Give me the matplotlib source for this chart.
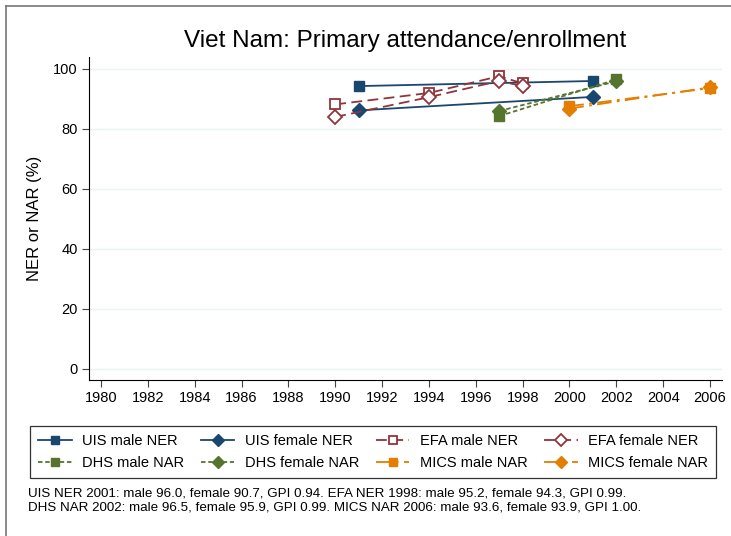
import matplotlib.pyplot as plt
from matplotlib.lines import Line2D

plt.rcParams['font.family'] = ['Liberation Sans', 'DejaVu Sans']

# data
uis_years = [1991, 2001]
uis_male = [94.3, 96.0]
uis_female = [86.2, 90.7]

efa_years = [1990, 1994, 1997, 1998]
efa_male = [88.2, 92.0, 97.6, 95.2]
efa_female = [84.0, 90.6, 96.0, 94.3]

dhs_years = [1997, 2002]
dhs_male = [84.3, 96.5]
dhs_female = [86.0, 95.9]

mics_years = [2000, 2006]
mics_male = [87.6, 93.6]
mics_female = [86.8, 93.9]

xticks = list(range(1980, 2007, 2))
yticks = [0, 20, 40, 60, 80, 100]

notes = ['UIS NER 2001: male 96.0, female 90.7, GPI 0.94. EFA NER 1998: male 95.2, female 94.3, GPI 0.99.',
         'DHS NAR 2002: male 96.5, female 95.9, GPI 0.99. MICS NAR 2006: male 93.6, female 93.9, GPI 1.00.']

navy = '#1a476f'
maroon = '#90353b'
green = '#55752f'
orange = '#e37e00'

fig = plt.figure(figsize=(7.31, 5.36), dpi=100)
ax = fig.add_axes([89/731, 1 - 380/536, (722 - 89)/731, (380 - 57)/536])

ms = 6.8
lw = 1.3
efa_dash = (6, 3)
dhs_dash = (2.5, 1.5)
mics_dash = (8, 3, 1.5, 3)

h = []
h += ax.plot(uis_years, uis_male, '-', color=navy, marker='s', ms=ms, lw=lw, label='UIS male NER')
h += ax.plot(uis_years, uis_female, '-', color=navy, marker='D', ms=ms, lw=lw, label='UIS female NER')
h += ax.plot(efa_years, efa_male, '--', color=maroon, marker='s', ms=ms, mfc='white', mew=1.3,
             lw=lw, dashes=efa_dash, label='EFA male NER')
h += ax.plot(efa_years, efa_female, '--', color=maroon, marker='D', ms=ms, mfc='white', mew=1.3,
             lw=lw, dashes=efa_dash, label='EFA female NER')
h += ax.plot(dhs_years, dhs_male, '--', color=green, marker='s', ms=ms, lw=lw, dashes=dhs_dash,
             label='DHS male NAR')
h += ax.plot(dhs_years, dhs_female, '--', color=green, marker='D', ms=ms, lw=lw, dashes=dhs_dash,
             label='DHS female NAR')
h += ax.plot(mics_years, mics_male, '-.', color=orange, marker='s', ms=ms, lw=lw, dashes=mics_dash,
             label='MICS male NAR')
h += ax.plot(mics_years, mics_female, '-.', color=orange, marker='D', ms=ms, lw=lw, dashes=mics_dash,
             label='MICS female NAR')

ax.set_xlim(1979.49, 2006.51)
ax.set_ylim(-3.7, 104)
ax.set_xticks(xticks)
ax.set_yticks(yticks)
ax.tick_params(labelsize=10.5, length=5, color='#444444', pad=3)
ax.yaxis.grid(True, color='#eaf2f3', lw=1)
ax.set_axisbelow(True)
for s in ['top', 'right']:
    ax.spines[s].set_visible(False)
ax.set_ylabel('NER or NAR (%)', fontsize=12, labelpad=8)

fig.text(405/731, 1 - 41/536, 'Viet Nam: Primary attendance/enrollment', ha='center', va='center',
         fontsize=17.5)

# matplotlib fills legend columns first, so reorder to read row by row
order = [0, 4, 1, 5, 2, 6, 3, 7]
leg = fig.legend([h[i] for i in order], [h[i].get_label() for i in order],
                 loc='lower left', bbox_to_anchor=(30/731, 1 - 478/536, (716 - 30)/731, (478 - 419)/536),
                 mode='expand', ncol=4, fontsize=10.5, frameon=True, fancybox=False,
                 edgecolor='black', handlelength=2.3, borderaxespad=0, columnspacing=1.0,
                 handletextpad=0.7, borderpad=0.55, labelspacing=0.55, markerscale=0.85)
leg.get_frame().set_linewidth(0.9)

fig.text(28/731, 1 - 494/536, notes[0], fontsize=9.6, va='center')
fig.text(28/731, 1 - 507/536, notes[1], fontsize=9.6, va='center')

# outer frame edges
fig.add_artist(Line2D([6/731, 6/731], [0, 1 - 6/536], color='#777777', lw=1.2))
fig.add_artist(Line2D([6/731, 1], [1 - 6/536, 1 - 6/536], color='#777777', lw=1.2))

fig.savefig('out.png', dpi=100)
